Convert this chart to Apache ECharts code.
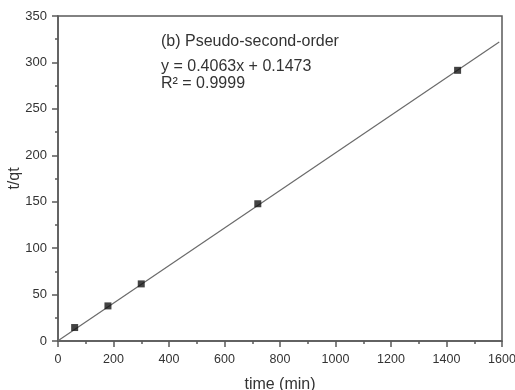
<!DOCTYPE html>
<html>
<head>
<meta charset="utf-8">
<script src="https://cdn.jsdelivr.net/npm/echarts@6/dist/echarts.min.js"></script>
<style>html,body{margin:0;padding:0;background:#fff}#c{width:515px;height:390px}</style>
</head>
<body>
<div id="c"></div>
<script>
var timeMin = [60, 180, 300, 720, 1440];
var tqt = [14.5, 37.8, 61.5, 147.8, 291.5];
var fitX = [0, 1590];
var fitY = [0.15, 322];
var xTicks = [0, 200, 400, 600, 800, 1000, 1200, 1400, 1600];
var yTicks = [0, 50, 100, 150, 200, 250, 300, 350];
var annotation = ["(b) Pseudo-second-order", "y = 0.4063x + 0.1473", "R\u00b2 = 0.9999"];

var chart = echarts.init(document.getElementById('c'));
var font = 'Liberation Sans, Arial, sans-serif';
var axisCol = '#5a5a5a';
chart.setOption({
  animation: false,
  grid: {left: 58, right: 13, top: 16, bottom: 49, containLabel: false, outerBoundsMode: 'none',
         show: true, borderColor: axisCol, borderWidth: 1.5},
  xAxis: {
    type: 'value', min: xTicks[0], max: xTicks[xTicks.length-1], interval: 200,
    name: 'time (min)', nameLocation: 'middle', nameGap: 44, nameMoveOverlap: false,
    nameTextStyle: {fontFamily: font, fontSize: 16, color: '#333', verticalAlign: 'middle'},
    axisLine: {lineStyle: {color: axisCol, width: 1.5}},
    axisTick: {show: true, length: 6, lineStyle: {color: axisCol, width: 1.5}},
    minorTick: {show: true, splitNumber: 2, length: 3, lineStyle: {color: axisCol, width: 1.5}},
    axisLabel: {fontFamily: font, fontSize: 12.5, color: '#333', margin: 12, formatter: function(v){return String(v);}},
    splitLine: {show: false}
  },
  yAxis: {
    type: 'value', min: yTicks[0], max: yTicks[yTicks.length-1], interval: 50,
    name: 't/qt', nameLocation: 'middle', nameGap: 43, nameMoveOverlap: false,
    nameTextStyle: {fontFamily: font, fontSize: 16, color: '#333', verticalAlign: 'middle'},
    axisLine: {lineStyle: {color: axisCol, width: 1.5}},
    axisTick: {show: true, length: 6, lineStyle: {color: axisCol, width: 1.5}},
    minorTick: {show: true, splitNumber: 2, length: 3, lineStyle: {color: axisCol, width: 1.5}},
    axisLabel: {fontFamily: font, fontSize: 13, color: '#333', margin: 11, formatter: function(v){return String(v);}},
    splitLine: {show: false}
  },
  graphic: [
    {type: 'text', left: 161, top: 34, style: {text: annotation[0], font: '16px ' + font, fill: '#333'}},
    {type: 'text', left: 161, top: 59, style: {text: annotation[1], font: '16px ' + font, fill: '#333'}},
    {type: 'text', left: 161, top: 76, style: {text: annotation[2], font: '16px ' + font, fill: '#333'}}
  ],
  series: [
    {type: 'line', data: fitX.map(function(x, i){return [x, fitY[i]];}), showSymbol: false, symbol: 'none',
     lineStyle: {color: '#6a6a6a', width: 1.2}, z: 2},
    {type: 'scatter', data: timeMin.map(function(x, i){return [x, tqt[i]];}), symbol: 'rect', symbolSize: 7,
     itemStyle: {color: '#141414'}, z: 3}
  ]
});
</script>
</body>
</html>
